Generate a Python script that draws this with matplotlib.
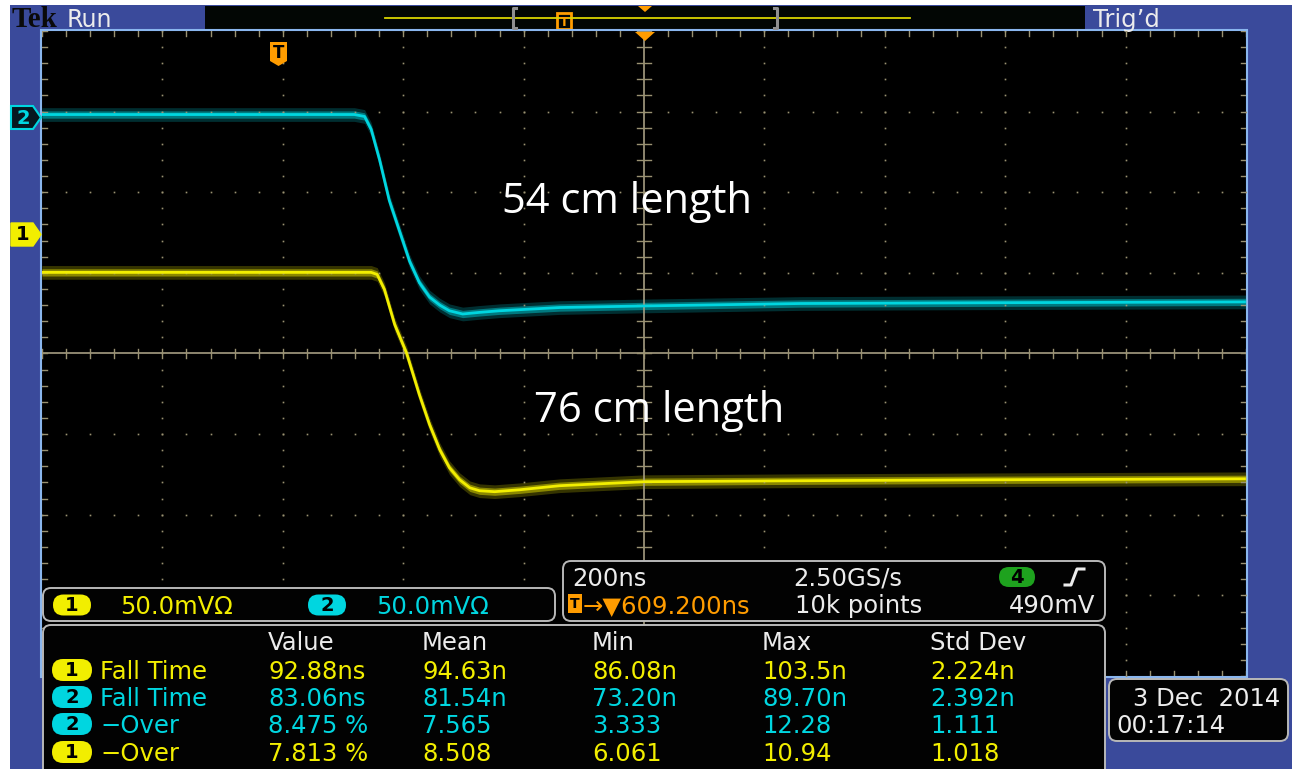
import numpy as np
import matplotlib
matplotlib.use("Agg")
import matplotlib.pyplot as plt
from matplotlib.patches import Rectangle, FancyBboxPatch, Polygon

# ---------------- data ----------------
# channel 2 (cyan, 54 cm length): time after trigger [ns], voltage [mV]
ch2_t_ns = [-391, 128, 145, 156, 170, 186, 203, 220, 236, 253, 270, 286, 308,
            336, 369, 469, 611, 869, 1201, 1609]
ch2_v_mV = [1.2, 1.2, 0, -8, -27, -52, -71, -90, -103, -112, -117, -120.5, -122.5,
            -121.5, -120.5, -118.5, -117.5, -116, -115.5, -115]
# channel 1 (yellow, 76 cm length)
ch1_t_ns = [-391, 156, 166, 178, 195, 215, 236, 253, 270, 286, 303, 320, 336,
            361, 403, 469, 536, 611, 869, 1201, 1609]
ch1_v_mV = [-24.2, -24.2, -25.5, -34.8, -56.5, -74.5, -100, -118.6, -134.2, -145.3,
            -152.8, -157.8, -159.6, -160.2, -159, -156.5, -155.3, -154, -153.4,
            -152.8, -152.2]

volts_per_div_mV = 50.0
time_per_div_ns = 200.0
horiz_pos_ns = 609.2
ch1_pos_div = 1.49
ch2_pos_div = 2.94

trace_labels = ["54 cm length", "76 cm length"]

meas_headers = ["Value", "Mean", "Min", "Max", "Std Dev"]
meas_names = ["Fall Time", "Fall Time", "\u2212Over", "\u2212Over"]
meas_channels = [1, 2, 2, 1]
meas_values = [
    ["92.88ns", "94.63n", "86.08n", "103.5n", "2.224n"],
    ["83.06ns", "81.54n", "73.20n", "89.70n", "2.392n"],
    ["8.475 %", "7.565", "3.333", "12.28", "1.111"],
    ["7.813 %", "8.508", "6.061", "10.94", "1.018"],
]
scale_texts = ["50.0mV\u03a9", "50.0mV\u03a9"]
horiz_texts = ["200ns", "2.50GS/s", "10k points", "490mV"]
trig_pos_text = "\u2192\u25bc609.200ns"
date_texts = ["3 Dec  2014", "00:17:14"]

# ---------------- style ----------------
W, H = 1294, 769
BLUE = "#3a4a9b"
YEL = "#f2ee00"
CYA = "#00d6e0"
ORA = "#ff9c00"
WHT = "#ececec"
GRID = "#9a9272"
FONT = "DejaVu Sans"
FS = 17.5
col = {1: YEL, 2: CYA}

fig = plt.figure(figsize=(W / 100, H / 100), dpi=100, facecolor="white")

def px_axes(x0, y0, x1, y1, z):
    a = fig.add_axes([x0 / W, 1 - y1 / H, (x1 - x0) / W, (y1 - y0) / H])
    a.set_zorder(z)
    return a

# background axes (pixel coords)
bg = px_axes(0, 0, W, H, 0)
bg.set_xlim(0, W); bg.set_ylim(H, 0); bg.axis("off")
bg.add_patch(Rectangle((10, 5), W - 12, H, color=BLUE, lw=0))
bg.add_patch(Rectangle((205, 6), 880, 23, facecolor="#020604", edgecolor="none"))
bg.text(12, 27, "Tek", family="Liberation Serif", weight="bold", fontsize=21,
        color="#0a0a0a", va="baseline")
bg.text(67, 27, "Run", family=FONT, fontsize=17, color=WHT, va="baseline")
bg.text(1093, 27, "Trig\u2019d", family=FONT, fontsize=17.5, color=WHT, va="baseline")
# record view
bg.plot([385, 910], [17.5, 17.5], color="#d8d400", lw=1.3)
for bx, d in ((513, 1), (777, -1)):
    bg.plot([bx + 3 * d, bx, bx, bx + 3 * d], [8, 8, 28, 28], color="#909090", lw=2.2)
bg.add_patch(Rectangle((557, 13), 14, 16, facecolor="#020604", edgecolor=ORA, lw=2))
bg.text(564, 22, "T", color=ORA, fontsize=9, weight="bold", ha="center", va="center")
bg.add_patch(Polygon([[638, 6], [652, 6], [645, 12]], color=ORA, lw=0))
# graticule frame
bg.add_patch(Rectangle((41, 30), 1206, 647, facecolor="black", edgecolor="#8ab6ee", lw=1.5))

# graticule axes (data coords: ns, divisions)
g = px_axes(42, 31, 1246, 676, 1)
g.set_facecolor("black")
g.set_xlim(horiz_pos_ns - 5 * time_per_div_ns, horiz_pos_ns + 5 * time_per_div_ns)
g.set_ylim(-4, 4)
g.axis("off")
x0g = horiz_pos_ns - 5 * time_per_div_ns
xs_sub = x0g + np.arange(0, 51) * time_per_div_ns / 5
ys_sub = -4 + np.arange(0, 41) * 0.2
for k in range(1, 10):
    if k == 5:
        continue
    xv = x0g + k * time_per_div_ns
    g.plot(np.full_like(ys_sub, xv), ys_sub, ls="none", marker="s", ms=1.2, color=GRID, mew=0)
for m in range(-3, 4):
    if m == 0:
        continue
    g.plot(xs_sub, np.full_like(xs_sub, m), ls="none", marker="s", ms=1.2, color=GRID, mew=0)
# center lines with ticks
g.axhline(0, color="#a59d82", lw=1.2)
g.axvline(horiz_pos_ns, color="#a59d82", lw=1.2)
for xv in xs_sub:
    g.plot([xv, xv], [-0.06, 0.06], color=GRID, lw=1.0)
    g.plot([xv, xv], [3.94, 4.0], color=GRID, lw=1.0)
    g.plot([xv, xv], [-4.0, -3.94], color=GRID, lw=1.0)
for yv in ys_sub:
    g.plot([horiz_pos_ns - 12, horiz_pos_ns + 12], [yv, yv], color=GRID, lw=1.0)
    g.plot([x0g, x0g + 8], [yv, yv], color=GRID, lw=1.0)
    g.plot([x0g + 2000 - 8, x0g + 2000], [yv, yv], color=GRID, lw=1.0)

# waveforms
for t, v, pos, c in ((ch2_t_ns, ch2_v_mV, ch2_pos_div, CYA),
                     (ch1_t_ns, ch1_v_mV, ch1_pos_div, YEL)):
    t = np.asarray(t, float)
    y = pos + np.asarray(v, float) / volts_per_div_mV
    g.fill_between(t, y - 0.085, y + 0.085, color=c, alpha=0.22, lw=0)
    g.fill_between(t, y - 0.045, y + 0.045, color=c, alpha=0.45, lw=0)
    g.plot(t, y, color=c, lw=2.0, solid_capstyle="butt")

# overlay (pixel coords)
ov = px_axes(0, 0, W, H, 2)
ov.set_xlim(0, W); ov.set_ylim(H, 0); ov.axis("off"); ov.patch.set_alpha(0)

ov.text(502, 213, trace_labels[0], family="Open Sans", fontsize=30, color="white", va="baseline")
ov.text(534, 422, trace_labels[1], family="Open Sans", fontsize=30, color="white", va="baseline")

# channel markers
ov.add_patch(Polygon([[11, 106], [33, 106], [41, 117.5], [33, 129], [11, 129]],
                     facecolor="#061820", edgecolor=CYA, lw=1.5))
ov.text(23, 118, "2", color=CYA, fontsize=14, weight="bold", ha="center", va="center")
ov.add_patch(Polygon([[11, 223], [33, 223], [41, 234.5], [33, 246], [11, 246]],
                     facecolor=YEL, edgecolor=YEL, lw=1))
ov.text(23, 235, "1", color="black", fontsize=14, weight="bold", ha="center", va="center")
# trigger markers in graticule
ov.add_patch(Polygon([[270, 42], [287, 42], [287, 61], [278.5, 66], [270, 61]], color=ORA, lw=0))
ov.text(278.5, 53, "T", color="black", fontsize=12, weight="bold", ha="center", va="center")
ov.add_patch(Polygon([[635, 32], [655, 32], [645, 41]], color=ORA, lw=0))

def rbox(x0, y0, x1, y1, r=8):
    ov.add_patch(FancyBboxPatch((x0, y0), x1 - x0, y1 - y0,
                                boxstyle=f"round,pad=0,rounding_size={r}",
                                facecolor="#020202", edgecolor="#b8b8b8", lw=1.4))

def pill(xc, yc, txt, c, w=38, h=21):
    ov.add_patch(FancyBboxPatch((xc - w / 2, yc - h / 2), w, h,
                                boxstyle=f"round,pad=0,rounding_size={h/2}",
                                facecolor=c, edgecolor="none"))
    ov.text(xc, yc + 0.5, txt, color="black", fontsize=14, weight="bold",
            ha="center", va="center", family=FONT)

# channel scale box
rbox(43, 588, 555, 621)
pill(72, 605, "1", YEL)
ov.text(120, 614, scale_texts[0], color=YEL, fontsize=FS, family=FONT, va="baseline")
pill(327, 605, "2", CYA)
ov.text(376, 614, scale_texts[1], color=CYA, fontsize=FS, family=FONT, va="baseline")

# horizontal box
rbox(563, 561, 1105, 621)
ov.text(572, 586, horiz_texts[0], color=WHT, fontsize=FS, family=FONT, va="baseline")
ov.text(793, 586, horiz_texts[1], color=WHT, fontsize=FS, family=FONT, va="baseline")
ov.text(795, 613, horiz_texts[2], color=WHT, fontsize=FS, family=FONT, va="baseline")
ov.text(1095, 613, horiz_texts[3], color=WHT, fontsize=FS, family=FONT, va="baseline", ha="right")
pill(1017, 577, "4", "#1ea21e", w=36, h=20)
ov.plot([1065, 1071, 1077, 1084], [585, 585, 569, 569], color=WHT, lw=2.2)
ov.add_patch(Rectangle((568, 594), 14, 19, facecolor=ORA, edgecolor="none"))
ov.text(575, 604, "T", color="black", fontsize=10, weight="bold", ha="center", va="center")
ov.text(583, 613, trig_pos_text, color=ORA, fontsize=FS, family=FONT, va="baseline")

# measurement panel
rbox(43, 625, 1105, 800)
col_x = [268, 422, 592, 762, 930]
for cx, h in zip(col_x, meas_headers):
    ov.text(cx, 650, h, color=WHT, fontsize=FS, family=FONT, va="baseline")
row_base = [679, 706, 733, 761]
for rb, ch, name, vals in zip(row_base, meas_channels, meas_names, meas_values):
    c = col[ch]
    pill(72, rb - 9, str(ch), c, w=40, h=22)
    ov.text(100, rb, name, color=c, fontsize=FS, family=FONT, va="baseline")
    for cx, v in zip(col_x, vals):
        ov.text(cx, rb, v, color=c, fontsize=FS, family=FONT, va="baseline")

# date box
rbox(1109, 679, 1288, 741)
ov.text(1280, 706, date_texts[0], color=WHT, fontsize=FS, family=FONT, va="baseline", ha="right")
ov.text(1116, 733, date_texts[1], color=WHT, fontsize=FS, family=FONT, va="baseline")

fig.savefig("out.png", dpi=100, facecolor="white")
